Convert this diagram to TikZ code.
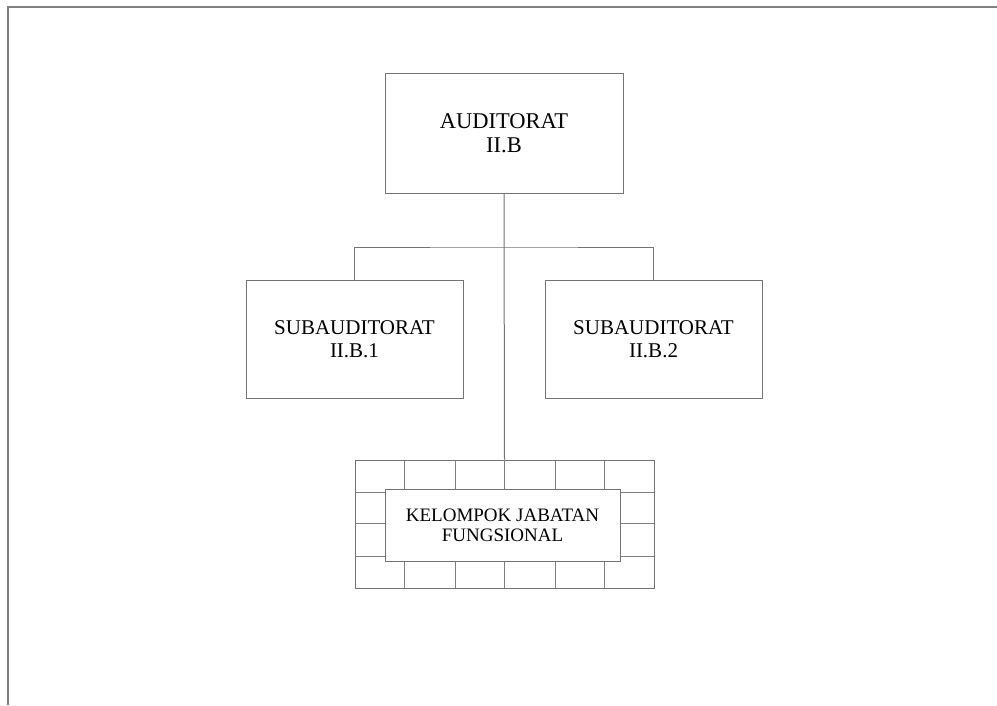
\documentclass[tikz,border=0pt]{standalone}
\usepackage{fontspec}
\setmainfont{Liberation Serif}
\begin{document}
\begin{tikzpicture}[x=1pt,y=-1pt,
  box/.style={draw=black!55,line width=1pt,fill=white,inner sep=0pt,align=center},
  conn/.style={draw=black!55,line width=1pt},
  gridline/.style={draw=black!50,line width=1pt}]
\useasboundingbox (0,0) rectangle (997,705);
% frame
\draw[black!50,line width=2pt] (997,7) -- (8,7) -- (8,705);
% boxes
\node[box,minimum width=238,minimum height=120,font=\fontsize{22.5}{24}\selectfont] (top) at (504,133) {AUDITORAT\\II.B};
\node[box,minimum width=217,minimum height=118,font=\fontsize{21}{23}\selectfont] (sub1) at (354.5,339) {SUBAUDITORAT\\II.B.1};
\node[box,minimum width=217,minimum height=118,font=\fontsize{21}{23}\selectfont] (sub2) at (653.5,339) {SUBAUDITORAT\\II.B.2};
% grid
\node[box,minimum width=299,minimum height=128] (grid) at (504.5,524) {};
\foreach \x in {404,455,504,555,604} \draw[gridline] (\x,460) -- (\x,588);
\foreach \y in {492,523,556} \draw[gridline] (355,\y) -- (654,\y);
\node[box,minimum width=235,minimum height=72,font=\fontsize{19}{20}\selectfont] (kjf) at (502.5,525) {KELOMPOK JABATAN\\FUNGSIONAL};
% connectors
\coordinate (bus) at (504,247);
\draw[conn] (top.south) -- (grid.north);
\draw[conn] (sub1.north) |- (bus) -| (sub2.north);
\end{tikzpicture}
\end{document}
